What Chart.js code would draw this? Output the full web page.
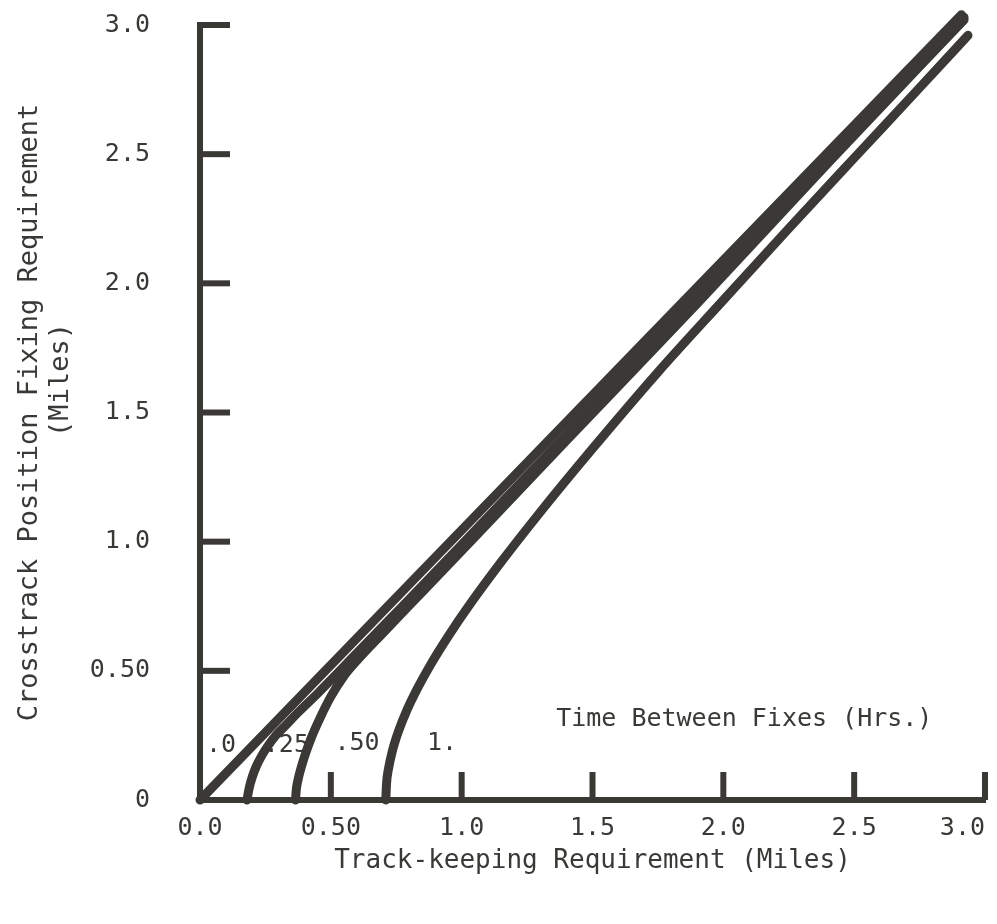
<!DOCTYPE html>
<html>
<head>
<meta charset="utf-8">
<script src="https://cdn.jsdelivr.net/npm/chart.js@4.4.1/dist/chart.umd.min.js"></script>
<style>
  html, body { margin: 0; padding: 0; background: #fff; }
</style>
</head>
<body>
<canvas id="fixChart" width="997" height="924"></canvas>
<script>
// time between fixes (hrs) for each curve, and its label
const hours = [0, 0.25, 0.5, 1.0];
const fixLabels = ['.0', '.25', '.50', '1.'];
const fixTitle = 'Time Between Fixes (Hrs.)';

// track-keeping (x) vs crosstrack position fixing (y)
const trackX0 = [0, 2.91];
const crossY0 = [0, 3.04];

const trackX25 = [0.18, 0.183, 0.19, 0.20, 0.215, 0.235, 0.26, 0.29, 0.33, 0.38, 0.45, 0.60, 0.80, 1.00, 1.30, 1.80, 2.40, 2.92];
const crossY25 = [0, 0.02, 0.055, 0.09, 0.13, 0.17, 0.21, 0.25, 0.292, 0.344, 0.413, 0.569, 0.778, 0.989, 1.308, 1.84, 2.48, 3.03];

const trackX50 = [0.365, 0.368, 0.375, 0.385, 0.40, 0.425, 0.46, 0.50, 0.55, 0.60, 0.70, 0.85, 1.05, 1.40, 1.90, 2.40, 2.92];
const crossY50 = [0, 0.04, 0.08, 0.12, 0.17, 0.24, 0.32, 0.40, 0.48, 0.54, 0.647, 0.806, 1.018, 1.391, 1.921, 2.465, 3.02];

const trackX100 = [0.71, 0.713, 0.72, 0.735, 0.76, 0.79, 0.83, 0.88, 0.95, 1.03, 1.15, 1.30, 1.50, 1.75, 2.00, 2.25, 2.50, 2.75, 2.935];
const crossY100 = [0, 0.065, 0.119, 0.189, 0.27, 0.346, 0.43, 0.522, 0.636, 0.755, 0.92, 1.114, 1.36, 1.656, 1.935, 2.212, 2.485, 2.757, 2.96];

const xTickLabels = ['0.0', '0.50', '1.0', '1.5', '2.0', '2.5', '3.0'];
const yTickLabels = ['0', '0.50', '1.0', '1.5', '2.0', '2.5', '3.0'];
const xTickMarks = [0.5, 1.0, 1.5, 2.0, 2.5, 3.0];
const yTickMarks = [0.5, 1.0, 1.5, 2.0, 2.5, 3.0];

const ink = '#3b3936';
const mono = '"DejaVu Sans Mono", monospace';

function pts(xs, ys) {
    return xs.map((v, i) => ({ x: v, y: ys[i] }));
}

const curves = [[trackX0, crossY0], [trackX25, crossY25], [trackX50, crossY50], [trackX100, crossY100]];

// inward tick marks and the in-plot labels
const extras = {
    id: 'extras',
    afterDatasetsDraw(chart) {
        const ctx = chart.ctx, xs = chart.scales.x, ys = chart.scales.y;
        ctx.save();
        ctx.strokeStyle = ink;
        ctx.lineWidth = 6;
        for (const v of xTickMarks) {
            const px = xs.getPixelForValue(v);
            ctx.beginPath(); ctx.moveTo(px, ys.bottom); ctx.lineTo(px, ys.bottom - 28); ctx.stroke();
        }
        for (const v of yTickMarks) {
            const py = ys.getPixelForValue(v);
            ctx.beginPath(); ctx.moveTo(xs.left, py); ctx.lineTo(xs.left + 30, py); ctx.stroke();
        }
        ctx.fillStyle = ink;
        ctx.font = '25px ' + mono;
        ctx.textAlign = 'center';
        ctx.textBaseline = 'middle';
        const spots = [[0.08, 0.21], [0.33, 0.21], [0.60, 0.22], [0.925, 0.22]];
        fixLabels.forEach((t, i) => {
            ctx.fillText(t, xs.getPixelForValue(spots[i][0]), ys.getPixelForValue(spots[i][1]));
        });
        ctx.fillText(fixTitle, xs.getPixelForValue(2.08), ys.getPixelForValue(0.31));
        ctx.restore();
    }
};

new Chart(document.getElementById('fixChart'), {
    type: 'line',
    data: {
        datasets: curves.map((c, i) => ({
            label: fixLabels[i],
            data: pts(c[0], c[1]),
            borderColor: ink,
            borderWidth: 9,
            borderCapStyle: 'round',
            borderJoinStyle: 'round',
            pointRadius: 0,
            cubicInterpolationMode: 'monotone',
            clip: false
        }))
    },
    options: {
        responsive: false,
        animation: false,
        layout: { padding: { top: 25, right: 12, bottom: 47, left: 0 } },
        plugins: {
            legend: { display: false },
            tooltip: { enabled: false }
        },
        scales: {
            x: {
                type: 'linear',
                min: 0,
                max: 3,
                grid: { display: false, drawTicks: false },
                border: { color: ink, width: 6 },
                ticks: {
                    stepSize: 0.5,
                    padding: 13,
                    color: ink,
                    font: { family: mono, size: 25 },
                    maxRotation: 0,
                    callback: (v, i) => i === xTickLabels.length - 1 ? xTickLabels[i] + '   ' : xTickLabels[i]
                },
                title: {
                    display: true,
                    text: 'Track-keeping Requirement (Miles)',
                    color: ink,
                    font: { family: mono, size: 26, lineHeight: 1.2 },
                    padding: { top: 4, bottom: 0 }
                },
                afterFit: (s) => { s.height = 77; s.paddingRight = 0; s.paddingLeft = 0; }
            },
            y: {
                type: 'linear',
                min: 0,
                max: 3,
                grid: { display: false, drawTicks: false },
                border: { color: ink, width: 6 },
                ticks: {
                    stepSize: 0.5,
                    padding: 50,
                    color: ink,
                    font: { family: mono, size: 25 },
                    callback: (v, i) => yTickLabels[i]
                },
                title: {
                    display: true,
                    text: ['Crosstrack Position Fixing Requirement', '    (Miles)'],
                    color: ink,
                    font: { family: mono, size: 27, lineHeight: 1.15 },
                    padding: { top: 14, bottom: 0 }
                },
                afterFit: (s) => { s.width = 200; s.paddingTop = 0; s.paddingBottom = 0; }
            }
        }
    },
    plugins: [extras]
});
</script>
</body>
</html>
